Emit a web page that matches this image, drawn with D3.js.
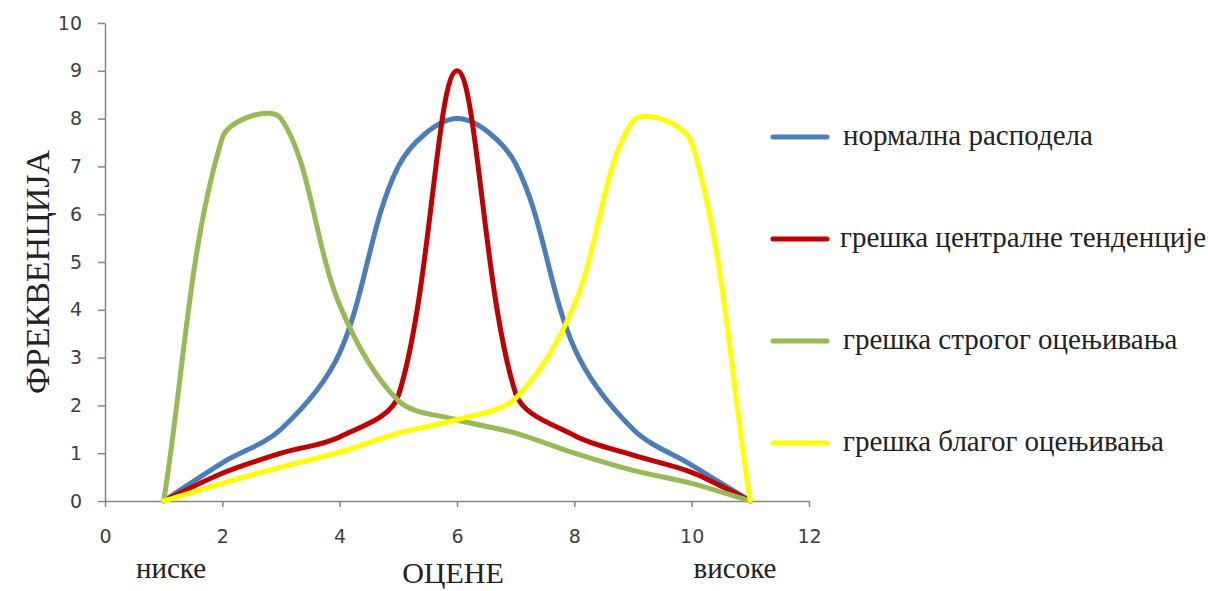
<!DOCTYPE html>
<html>
<head>
<meta charset="utf-8">
<script src="https://cdn.jsdelivr.net/npm/d3@7"></script>
<style>
  html, body { margin: 0; padding: 0; background: #fff; }
  svg { display: block; }
  .axis path, .axis line { stroke: #868686; stroke-width: 1.5; }
  .axis text { font-family: "DejaVu Sans", Verdana, sans-serif; font-size: 19px; fill: #404040; }
  .serif { font-family: "Liberation Serif", "Times New Roman", serif; fill: #222; }
</style>
</head>
<body>
<svg id="chart"></svg>
<script>
// оцене на x оси
const grades = [1, 2, 3, 4, 5, 6, 7, 8, 9, 10, 11];

// фреквенције по серијама
const normalna = [0, 0.8, 1.5, 3.1, 7.0, 8.0, 7.05, 3.2, 1.5, 0.75, 0];
const centralna = [0, 0.58, 1.0, 1.34, 2.2, 9.0, 2.25, 1.37, 0.96, 0.6, 0];
const stroga = [0, 7.6, 8.0, 4.1, 2.1, 1.7, 1.42, 1.0, 0.64, 0.37, 0];
const blaga = [0, 0.37, 0.71, 1.02, 1.42, 1.7, 2.15, 4.1, 7.95, 7.5, 0];

const seriesNames = [
  "нормална расподела",
  "грешка централне тенденције",
  "грешка строгог оцењивања",
  "грешка благог оцењивања"
];
const seriesValues = [normalna, centralna, stroga, blaga];
const colors = ["#4a7ebb", "#c00000", "#98b954", "#ffff00"];

const xTicks = [0, 2, 4, 6, 8, 10, 12];
const yTicks = [0, 1, 2, 3, 4, 5, 6, 7, 8, 9, 10];

const width = 1208, height = 591;
const svg = d3.select("#chart").attr("width", width).attr("height", height);
svg.append("rect").attr("width", width).attr("height", height).attr("fill", "#fff");

// пиксели осе
const plotLeft = 105, plotRight = 809, plotTop = 23, plotBottom = 501;

const x = d3.scaleLinear().domain([0, 12]).range([plotLeft, plotRight]);
const y = d3.scaleLinear().domain([0, 10]).range([plotBottom, plotTop]);

svg.append("g")
  .attr("class", "axis")
  .attr("transform", `translate(0,${plotBottom})`)
  .call(d3.axisBottom(x).tickValues(xTicks).tickSize(6).tickSizeOuter(0).tickPadding(23));

svg.append("g")
  .attr("class", "axis")
  .attr("transform", `translate(${plotLeft},0)`)
  .call(d3.axisLeft(y).tickValues(yTicks).tickSize(7).tickSizeOuter(0).tickPadding(16));

// глатка линија као у Excel-у (Bezier, контролне тачке по дужини сегмента)
function SmoothCurve(context) { this._context = context; }
SmoothCurve.prototype = {
  areaStart() {}, areaEnd() {},
  lineStart() { this._pts = []; },
  point(px, py) { this._pts.push([+px, +py]); },
  lineEnd() {
    const p = this._pts, n = p.length, c = this._context;
    if (!n) return;
    const dist = (a, b) => Math.hypot(b[0] - a[0], b[1] - a[1]);
    c.moveTo(p[0][0], p[0][1]);
    for (let i = 0; i < n - 1; i++) {
      const p0 = p[Math.max(i - 1, 0)], p1 = p[i], p2 = p[i + 1], p3 = p[Math.min(i + 2, n - 1)];
      const d01 = dist(p0, p1), d12 = dist(p1, p2), d23 = dist(p2, p3);
      const f1 = d01 + d12 > 0 ? d12 / (d01 + d12) / 3 : 0;
      const f2 = d12 + d23 > 0 ? d12 / (d12 + d23) / 3 : 0;
      c.bezierCurveTo(
        p1[0] + (p2[0] - p0[0]) * f1, p1[1] + (p2[1] - p0[1]) * f1,
        p2[0] - (p3[0] - p1[0]) * f2, p2[1] - (p3[1] - p1[1]) * f2,
        p2[0], p2[1]
      );
    }
  }
};

const line = d3.line()
  .x((d, i) => x(grades[i]))
  .y(d => y(d))
  .curve(ctx => new SmoothCurve(ctx));

svg.append("g").selectAll("path")
  .data(seriesValues)
  .join("path")
  .attr("d", d => line(d))
  .attr("fill", "none")
  .attr("stroke", (d, i) => colors[i])
  .attr("stroke-width", 5)
  .attr("stroke-linejoin", "round")
  .attr("stroke-linecap", "round");

// легенда
const legend = svg.append("g");
const legendY = [137, 239, 341, 443];
seriesNames.forEach((name, i) => {
  legend.append("line")
    .attr("x1", 773).attr("x2", 827)
    .attr("y1", legendY[i]).attr("y2", legendY[i])
    .attr("stroke", colors[i])
    .attr("stroke-width", 5)
    .attr("stroke-linecap", "round");
  legend.append("text")
    .attr("class", "serif")
    .attr("x", i === 1 ? 840 : 843)
    .attr("y", legendY[i] + 8)
    .attr("font-size", 29)
    .text(name);
});

// називи оса
svg.append("text")
  .attr("class", "serif")
  .attr("transform", "translate(49,272) rotate(-90)")
  .attr("text-anchor", "middle")
  .attr("font-size", 34)
  .text("ФРЕКВЕНЦИЈА");

svg.append("text")
  .attr("class", "serif")
  .attr("x", 453).attr("y", 583)
  .attr("text-anchor", "middle")
  .attr("font-size", 30)
  .text("ОЦЕНЕ");

svg.append("text")
  .attr("class", "serif")
  .attr("x", 171).attr("y", 578)
  .attr("text-anchor", "middle")
  .attr("font-size", 29)
  .text("ниске");

svg.append("text")
  .attr("class", "serif")
  .attr("x", 735).attr("y", 578)
  .attr("text-anchor", "middle")
  .attr("font-size", 29)
  .text("високе");
</script>
</body>
</html>
